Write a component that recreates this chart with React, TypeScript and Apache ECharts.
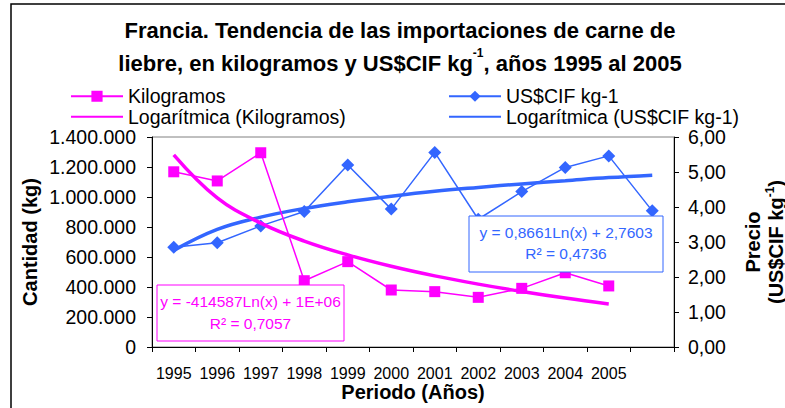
import React, { useEffect, useRef } from 'react';
import * as echarts from 'echarts';

const years = ['1995', '1996', '1997', '1998', '1999', '2000', '2001', '2002', '2003', '2004', '2005', ''];
const kilogramos = [1168000, 1107000, 1295000, 442000, 569000, 380000, 369000, 331000, 391000, 495000, 407000];
const trendKilogramos = [1281000, 994000, 826000, 706000, 614000, 538000, 474000, 419000, 370000, 326000, 287000];
const precio = [2.85, 2.98, 3.46, 3.87, 5.2, 3.94, 5.56, 3.65, 4.44, 5.13, 5.46, 3.89];
const trendPrecio = [2.76, 3.36, 3.71, 3.96, 4.15, 4.31, 4.45, 4.56, 4.66, 4.75, 4.84, 4.91];
const kgTicks = { min: 0, max: 1400000, interval: 200000 };
const precioTicks = { min: 0, max: 6, interval: 1 };

const FONT = "'Liberation Sans', Arial, Helvetica, sans-serif";
const NARROW = "'Liberation Sans Narrow', 'Arial Narrow', 'Liberation Sans', Arial, sans-serif";
const MAGENTA = '#FF00FF';
const BLUE = '#3366FF';

const fmtKg = (v: number) => String(Math.round(v)).replace(/\B(?=(\d{3})+(?!\d))/g, '.');
const fmtPrecio = (v: number) => v.toFixed(2).replace('.', ',');

export default function App() {
  const ref = useRef<HTMLDivElement>(null);
  useEffect(() => {
    const chart = echarts.init(ref.current!, null, { renderer: 'svg' });
    const legendText = { fontFamily: FONT, fontSize: 19.5, color: '#000', lineHeight: 20.5 };
    const option: any = {
      animation: false,
      backgroundColor: '#FFFFFF',
      textStyle: { fontFamily: FONT },
      grid: {
        left: 152, right: 111, top: 137, bottom: 61,
        containLabel: false, outerBoundsMode: 'none',
        show: true, borderColor: '#808080', borderWidth: 1,
      },
      legend: [
        {
          data: [
            { name: 'Kilogramos' },
            { name: 'Logarítmica (Kilogramos)', itemStyle: { opacity: 0 } },
          ],
          orient: 'vertical',
          left: 65,
          top: 81,
          itemWidth: 52,
          itemHeight: 14,
          itemGap: 0,
          textStyle: legendText,
        },
        {
          data: [
            { name: 'US$CIF kg-1' },
            { name: 'Logarítmica (US$CIF kg-1)', itemStyle: { opacity: 0 } },
          ],
          orient: 'vertical',
          left: 443,
          top: 81,
          itemWidth: 52,
          itemHeight: 14,
          itemGap: 0,
          textStyle: legendText,
        },
      ],
      xAxis: {
        type: 'category',
        data: years,
        boundaryGap: true,
        name: 'Periodo (Años)',
        nameLocation: 'middle',
        nameGap: 35,
        nameMoveOverlap: false,
        nameTextStyle: { fontFamily: FONT, fontSize: 20, fontWeight: 'bold', color: '#000' },
        axisLine: { lineStyle: { color: '#000', width: 1 } },
        axisTick: { show: true, interval: 0, length: 5, lineStyle: { color: '#000' } },
        axisLabel: { interval: 0, margin: 18, color: '#000', fontFamily: NARROW, fontSize: 16 },
        splitLine: { show: false },
      },
      yAxis: [
        {
          type: 'value',
          min: kgTicks.min,
          max: kgTicks.max,
          interval: kgTicks.interval,
          name: 'Cantidad (kg)',
          nameLocation: 'middle',
          nameGap: 112,
          nameMoveOverlap: false,
          nameTextStyle: { fontFamily: FONT, fontSize: 20, fontWeight: 'bold', color: '#000' },
          axisLine: { show: true, lineStyle: { color: '#000', width: 1 } },
          axisTick: { show: true, length: 5, lineStyle: { color: '#000' } },
          axisLabel: { formatter: fmtKg, margin: 16, color: '#000', fontFamily: FONT, fontSize: 19.5 },
          splitLine: { show: false },
        },
        {
          type: 'value',
          position: 'right',
          min: precioTicks.min,
          max: precioTicks.max,
          interval: precioTicks.interval,
          name: '{b|Precio}\n{b|(US$CIF kg}{s|-1}{b|)}',
          nameLocation: 'middle',
          nameGap: 67,
          nameMoveOverlap: false,
          nameTextStyle: {
            fontFamily: FONT,
            fontSize: 20,
            fontWeight: 'bold',
            color: '#000',
            lineHeight: 23,
            rich: {
              b: { fontFamily: FONT, fontSize: 20, fontWeight: 'bold', color: '#000', lineHeight: 23 },
              s: { fontFamily: FONT, fontSize: 12, fontWeight: 'bold', color: '#000', lineHeight: 16, verticalAlign: 'top' },
            },
          },
          axisLine: { show: true, lineStyle: { color: '#000', width: 1 } },
          axisTick: { show: true, length: 5, lineStyle: { color: '#000' } },
          axisLabel: { formatter: fmtPrecio, margin: 14, color: '#000', fontFamily: FONT, fontSize: 19.5 },
          splitLine: { show: false },
        },
      ],
      series: [
        {
          name: 'Kilogramos',
          type: 'line',
          yAxisIndex: 0,
          data: kilogramos,
          symbol: 'rect',
          symbolSize: 11,
          itemStyle: { color: MAGENTA },
          lineStyle: { color: MAGENTA, width: 1.5 },
          z: 3,
        },
        {
          name: 'Logarítmica (Kilogramos)',
          type: 'line',
          yAxisIndex: 0,
          data: trendKilogramos,
          symbol: 'none',
          smooth: 0.4,
          itemStyle: { color: MAGENTA },
          lineStyle: { color: MAGENTA, width: 3.5 },
          z: 3,
        },
        {
          name: 'US$CIF kg-1',
          type: 'line',
          yAxisIndex: 1,
          data: precio,
          symbol: 'diamond',
          symbolSize: 13,
          itemStyle: { color: BLUE },
          lineStyle: { color: BLUE, width: 1.5 },
          z: 2,
        },
        {
          name: 'Logarítmica (US$CIF kg-1)',
          type: 'line',
          yAxisIndex: 1,
          data: trendPrecio,
          symbol: 'none',
          smooth: 0.4,
          itemStyle: { color: BLUE },
          lineStyle: { color: BLUE, width: 3.5 },
          z: 2,
        },
      ],
      graphic: [
        {
          type: 'rect',
          z: 0,
          silent: true,
          shape: { x: 11, y: 4, width: 800, height: 440 },
          style: { fill: 'none', stroke: '#000', lineWidth: 1.5 },
        },
        {
          type: 'text',
          z: 100,
          x: 400,
          y: 46.5,
          style: {
            text: 'Francia. Tendencia de las importaciones de carne de\nliebre, en kilogramos y US$CIF kg{s|-1}, años 1995 al 2005',
            fontFamily: FONT,
            fontSize: 22,
            fontWeight: 'bold',
            lineHeight: 33,
            fill: '#000',
            align: 'center',
            verticalAlign: 'middle',
            rich: {
              s: { fontFamily: FONT, fontSize: 12, fontWeight: 'bold', fill: '#000', lineHeight: 18, verticalAlign: 'top' },
            },
          },
        },
        {
          type: 'group',
          z: 100,
          children: [
            {
              type: 'rect',
              z: 100,
              shape: { x: 157, y: 285, width: 187, height: 56 },
              style: { fill: '#FFFFFF', stroke: MAGENTA, lineWidth: 1 },
            },
            {
              type: 'text',
              z: 101,
              x: 250.5,
              y: 301,
              style: { text: 'y = -414587Ln(x) + 1E+06', fontFamily: FONT, fontSize: 15.5, fill: MAGENTA, align: 'center', verticalAlign: 'middle' },
            },
            {
              type: 'text',
              z: 101,
              x: 250.5,
              y: 323,
              style: { text: 'R² = 0,7057', fontFamily: FONT, fontSize: 15.5, fill: MAGENTA, align: 'center', verticalAlign: 'middle' },
            },
            {
              type: 'rect',
              z: 100,
              shape: { x: 469, y: 216, width: 194, height: 56 },
              style: { fill: '#FFFFFF', stroke: BLUE, lineWidth: 1 },
            },
            {
              type: 'text',
              z: 101,
              x: 566,
              y: 232,
              style: { text: 'y = 0,8661Ln(x) + 2,7603', fontFamily: FONT, fontSize: 15.5, fill: BLUE, align: 'center', verticalAlign: 'middle' },
            },
            {
              type: 'text',
              z: 101,
              x: 566,
              y: 253,
              style: { text: 'R² = 0,4736', fontFamily: FONT, fontSize: 15.5, fill: BLUE, align: 'center', verticalAlign: 'middle' },
            },
          ],
        },
      ],
    };
    chart.setOption(option);
    return () => chart.dispose();
  }, []);
  return <div ref={ref} style={{ position: 'fixed', left: 0, top: 0, width: 785, height: 408 }} />;
}
